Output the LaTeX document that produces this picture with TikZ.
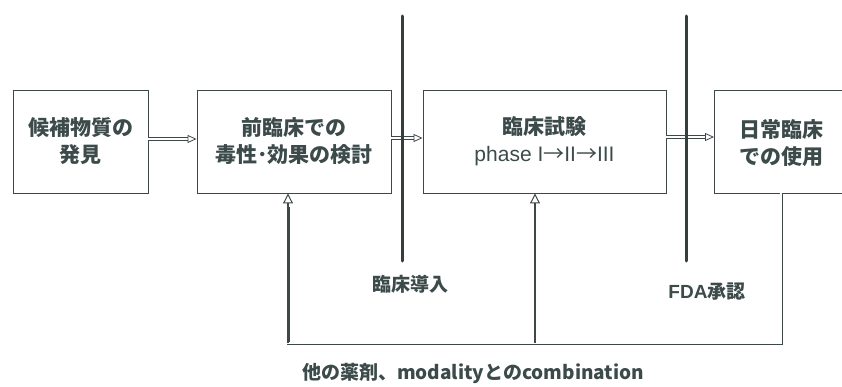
\documentclass[tikz,border=0pt]{standalone}
\usepackage{fontspec}
\setmainfont{Noto Sans CJK JP}
\newfontfamily\latinsans{Liberation Sans}
\newfontfamily\cjkfont{Noto Sans CJK JP}
\usetikzlibrary{arrows.meta}
\definecolor{ink}{HTML}{3E4848}
\definecolor{txt}{HTML}{3C4A4A}
\definecolor{bar}{HTML}{33403F}
\tikzset{
  box/.style={draw=ink, line width=0.9pt, inner sep=0pt, text=txt, align=center,
    font=\bfseries\fontsize{21}{27}\selectfont},
  lbl/.style={text=txt, font=\bfseries\fontsize{19}{23}\selectfont},
  flow/.style={draw=ink, double=white, line width=0.8pt, double distance=1.6pt,
    -{Triangle[open, length=9pt, width=8pt, line width=0.8pt]}},
  fb/.style={draw=ink, double=white, line width=0.9pt, double distance=1.2pt},
  fbarrow/.style={draw=ink, line width=2.6pt,
    -{Triangle[open, length=10pt, width=10pt, line width=1pt]}},
  gate/.style={draw=bar, line width=3pt, line cap=round},
}
\begin{document}
\begin{tikzpicture}[x=1pt,y=-1pt]
\useasboundingbox (0,0) rectangle (842,387);
\clip (0,0) rectangle (842,387);
% boxes
\node[box, minimum width=135pt, minimum height=103pt] (b1) at (80.5,141.5) {候補物質の\\発見};
\node[box, minimum width=194pt, minimum height=103pt] (b2) at (294,141.5) {前臨床での\\毒性･効果の検討};
\node[box, minimum width=243pt, minimum height=103pt] (b3) at (544.5,141.5) {臨床試験\\{\mdseries\latinsans\fontsize{21}{27}\selectfont phase I{\cjkfont →}II{\cjkfont →}III}};
\node[box, minimum width=160pt, minimum height=103pt, anchor=west] (b4) at (714,141.5) {};
\node[text=txt, align=center, font=\bfseries\fontsize{21}{27}\selectfont] (t4) at (781,143) {日常臨床\\での使用};
% gates
\coordinate (g1t) at (402,16);
\coordinate (g1b) at (402,261);
\coordinate (g2t) at (686,16);
\coordinate (g2b) at (686,261);
% forward arrows
\draw[flow] (b1.east |- 0,139) -- (b2.west |- 0,139);
\draw[flow] (b2.east |- 0,138) -- (b3.west |- 0,138);
\draw[flow] (b3.east |- 0,137) -- (b4.west |- 0,137);
\draw[gate] (g1t) -- (g1b);
\draw[gate] (g2t) -- (g2b);
% gate labels
\node[lbl] (l1) at (410,284) {臨床導入};
\node[lbl] (l2) at (707,292) {{\latinsans FDA}承認};
% feedback loop
\coordinate (c4) at (781,343);
\coordinate (c2) at (288,343);
\coordinate (c3) at (535,343);
\draw[fb] (b4.south -| 781,0) -- (c4) -- (c2) -- ([yshift=-14pt]b2.south -| c2);
\draw[fbarrow] (c2) -- (b2.south -| c2);
\draw[fbarrow] (c3) -- (b3.south -| c3);
\node[lbl] (l3) at (473,373) {他の薬剤、modalityとのcombination};
\end{tikzpicture}
\end{document}
